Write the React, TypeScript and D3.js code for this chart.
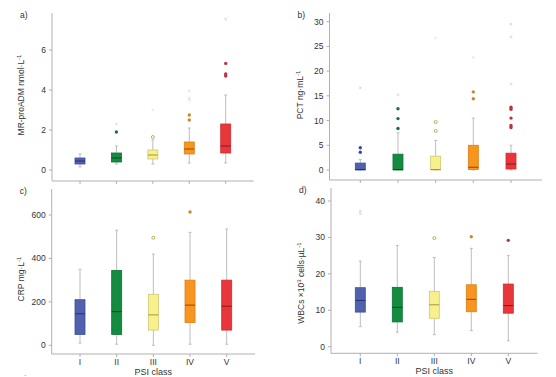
import React from "react";
import * as d3 from "d3";

const categories = ["I", "II", "III", "IV", "V"];

// Panel a: MR-proADM
const admLow = [0.15, 0.3, 0.3, 0.35, 0.35];
const admQ1 = [0.3, 0.4, 0.55, 0.8, 0.85];
const admMedian = [0.45, 0.6, 0.75, 1.05, 1.2];
const admQ3 = [0.6, 0.85, 1.0, 1.4, 2.3];
const admHigh = [0.8, 1.2, 1.5, 2.1, 3.75];
const admOutliers = [[], [1.9], [1.65], [2.5, 2.75], [4.7, 4.8, 5.33]];
const admExtremes = [[], [2.3], [3.0], [3.5, 3.6, 3.95], [7.55]];
const admTicks = [0, 2, 4, 6];

// Panel b: PCT
const pctLow = [0, 0, 0, 0, 0];
const pctQ1 = [0, 0, 0, 0.1, 0.2];
const pctMedian = [0.1, 0.1, 0.1, 0.55, 1.2];
const pctQ3 = [1.4, 3.2, 2.8, 5.0, 3.4];
const pctHigh = [2.1, 7.5, 6.0, 10.5, 5.0];
const pctOutliers = [[3.6, 4.5], [8.4, 10.4, 12.4], [7.9, 9.7], [14.4, 15.8], [8.6, 9.0, 10.5, 12.3, 12.7]];
const pctExtremes = [[16.6], [15.2], [26.7], [22.8], [17.4, 26.9, 29.5]];
const pctTicks = [0, 5, 10, 15, 20, 25, 30];

// Panel c: CRP
const crpLow = [10, 5, 0, 5, 5];
const crpQ1 = [50, 50, 70, 105, 70];
const crpMedian = [145, 155, 140, 185, 180];
const crpQ3 = [210, 345, 235, 300, 300];
const crpHigh = [350, 530, 420, 520, 535];
const crpOutliers = [[], [], [495], [614], []];
const crpExtremes = [[], [], [], [], []];
const crpTicks = [0, 200, 400, 600];

// Panel d: WBCs
const wbcLow = [5.5, 4.0, 3.3, 4.4, 1.6];
const wbcQ1 = [9.5, 6.8, 7.8, 9.6, 9.2];
const wbcMedian = [12.7, 10.8, 11.5, 13.0, 11.3];
const wbcQ3 = [16.2, 16.3, 15.2, 17.0, 17.2];
const wbcHigh = [23.5, 27.8, 24.5, 27.0, 25.0];
const wbcOutliers = [[], [], [29.8], [30.2], [29.2]];
const wbcExtremes = [[36.5, 37.2], [], [], [], []];
const wbcTicks = [0, 10, 20, 30, 40];

const fills = ["#5261ad", "#138c41", "#f7f08c", "#f7951f", "#e8363b"];
const strokes = ["#3f4d9c", "#0d7033", "#cfc870", "#dc7e14", "#cc2d33"];
const medians = ["#26326e", "#064a1e", "#a3963c", "#8c4a0a", "#86191b"];
const outlierCols = ["#3b4898", "#1e6e44", "#b0a848", "#c98a2c", "#c0303e"];
const extremeCols = ["#d4d4e0", "#d2e0d6", "#ece8c8", "#f0dfca", "#ecccd0"];

type Panel = {
  label: string;
  ax: number;
  x0: number; x1: number;
  yTop: number; yBase: number;
  v0: number; v1: number; p0: number; p1: number;
  ticks: number[];
  low: number[]; q1: number[]; med: number[]; q3: number[]; high: number[];
  out: number[][]; ext: number[][];
  ylab: { parts: [string, boolean][]; x: number; y: number };
  showX: boolean;
};

const panels: Panel[] = [
  {
    label: "a)", ax: 52, x0: 80, x1: 225.7, yTop: 13, yBase: 181,
    v0: 0, v1: 6, p0: 170, p1: 50, ticks: admTicks,
    low: admLow, q1: admQ1, med: admMedian, q3: admQ3, high: admHigh, out: admOutliers, ext: admExtremes,
    ylab: { parts: [["MR-proADM nmol·L", false], ["-1", true]], x: 24, y: 95 }, showX: false,
  },
  {
    label: "b)", ax: 329.5, x0: 360.3, x1: 511, yTop: 13, yBase: 180,
    v0: 0, v1: 30, p0: 170, p1: 21.7, ticks: pctTicks,
    low: pctLow, q1: pctQ1, med: pctMedian, q3: pctQ3, high: pctHigh, out: pctOutliers, ext: pctExtremes,
    ylab: { parts: [["PCT ng·mL", false], ["-1", true]], x: 303, y: 95 }, showX: false,
  },
  {
    label: "c)", ax: 51.7, x0: 80, x1: 226.7, yTop: 189, yBase: 354,
    v0: 0, v1: 600, p0: 345.3, p1: 215, ticks: crpTicks,
    low: crpLow, q1: crpQ1, med: crpMedian, q3: crpQ3, high: crpHigh, out: crpOutliers, ext: crpExtremes,
    ylab: { parts: [["CRP mg·L", false], ["-1", true]], x: 24, y: 279 }, showX: true,
  },
  {
    label: "d)", ax: 331, x0: 360.3, x1: 508.3, yTop: 188, yBase: 353.3,
    v0: 0, v1: 40, p0: 346.7, p1: 201, ticks: wbcTicks,
    low: wbcLow, q1: wbcQ1, med: wbcMedian, q3: wbcQ3, high: wbcHigh, out: wbcOutliers, ext: wbcExtremes,
    ylab: { parts: [["WBCs ×10", false], ["3", true], [" cells·µL", false], ["-1", true]], x: 304, y: 283 }, showX: true,
  },
];

const FONT = "Liberation Sans, Arial, sans-serif";
const AXIS = "#b0b0b0";
const TXT = "#333";

function Star({ x, y, c }: { x: number; y: number; c: string }) {
  const r = 1.4;
  return (
    <g stroke={c} strokeWidth={0.7}>
      <line x1={x - r} y1={y} x2={x + r} y2={y} />
      <line x1={x - r * 0.6} y1={y - r} x2={x + r * 0.6} y2={y + r} />
      <line x1={x + r * 0.6} y1={y - r} x2={x - r * 0.6} y2={y + r} />
    </g>
  );
}

function PanelView({ p }: { p: Panel }) {
  const y = d3.scaleLinear().domain([p.v0, p.v1]).range([p.p0, p.p1]);
  const x = d3.scalePoint<string>().domain(categories).range([p.x0, p.x1]);
  const xEnd = p.x1 + (p.x0 - p.ax);
  const bw = 10;
  return (
    <g fontFamily={FONT}>
      <text x={p.ax - 32} y={p.yTop + 5} fontSize={8.5} fill={TXT}>{p.label}</text>
      <line x1={p.ax} y1={p.yTop} x2={p.ax} y2={p.yBase} stroke={AXIS} strokeWidth={1} />
      <line x1={p.ax} y1={p.yBase} x2={xEnd} y2={p.yBase} stroke={AXIS} strokeWidth={1} />
      {p.ticks.map((t) => (
        <g key={t}>
          <line x1={p.ax - 3} x2={p.ax} y1={y(t)} y2={y(t)} stroke={AXIS} />
          <text x={p.ax - 6} y={y(t)} dy="0.35em" textAnchor="end" fontSize={8.5} fill={TXT}>{t}</text>
        </g>
      ))}
      {categories.map((c) => (
        <g key={c}>
          <line x1={x(c)!} x2={x(c)!} y1={p.yBase} y2={p.yBase + 3} stroke={AXIS} />
          {p.showX && (
            <text x={x(c)!} y={p.yBase + 11} textAnchor="middle" fontSize={8.5} fill={TXT}>{c}</text>
          )}
        </g>
      ))}
      {p.showX && (
        <text x={(p.ax + xEnd) / 2} y={p.yBase + 21} textAnchor="middle" fontSize={9} fill={TXT}>PSI class</text>
      )}
      <text transform={`translate(${p.ylab.x},${p.ylab.y}) rotate(-90)`} textAnchor="middle" fontSize={8.5} fill={TXT}>
        {p.ylab.parts.map(([s, sup], i) =>
          sup ? (
            <tspan key={i} fontSize={6} dy={-3.5}>{s}</tspan>
          ) : (
            <tspan key={i} dy={i > 0 ? 3.5 : 0}>{s}</tspan>
          )
        )}
      </text>
      {categories.map((c, i) => {
        const cx = x(c)!;
        return (
          <g key={c}>
            <line x1={cx} x2={cx} y1={y(p.low[i])} y2={y(p.q1[i])} stroke="#bdbdbd" />
            <line x1={cx} x2={cx} y1={y(p.q3[i])} y2={y(p.high[i])} stroke="#bdbdbd" />
            <line x1={cx - 1.5} x2={cx + 1.5} y1={y(p.low[i])} y2={y(p.low[i])} stroke="#bdbdbd" />
            <line x1={cx - 1.5} x2={cx + 1.5} y1={y(p.high[i])} y2={y(p.high[i])} stroke="#bdbdbd" />
            <rect x={cx - bw / 2} y={y(p.q3[i])} width={bw} height={Math.max(1, y(p.q1[i]) - y(p.q3[i]))}
              fill={fills[i]} stroke={strokes[i]} strokeWidth={0.8} />
            <line x1={cx - bw / 2} x2={cx + bw / 2} y1={y(p.med[i])} y2={y(p.med[i])} stroke={medians[i]} strokeWidth={1} />
            {p.out[i].map((v, k) =>
              i === 2 ? (
                <circle key={k} cx={cx} cy={y(v)} r={1.5} fill="none" stroke={outlierCols[i]} strokeWidth={0.9} />
              ) : (
                <circle key={k} cx={cx} cy={y(v)} r={1.7} fill={outlierCols[i]} />
              )
            )}
            {p.ext[i].map((v, k) => (
              <Star key={k} x={cx} y={y(v)} c={extremeCols[i]} />
            ))}
          </g>
        );
      })}
    </g>
  );
}

export default function App() {
  return (
    <svg width={556} height={377} style={{ position: "absolute", left: 0, top: 0, background: "#fff" }}>
      <rect width={556} height={377} fill="#fff" />
      {panels.map((p) => (
        <PanelView key={p.label} p={p} />
      ))}
      <text x={24} y={376} fontSize={8} fill="#666" fontFamily={FONT}>.</text>
    </svg>
  );
}
